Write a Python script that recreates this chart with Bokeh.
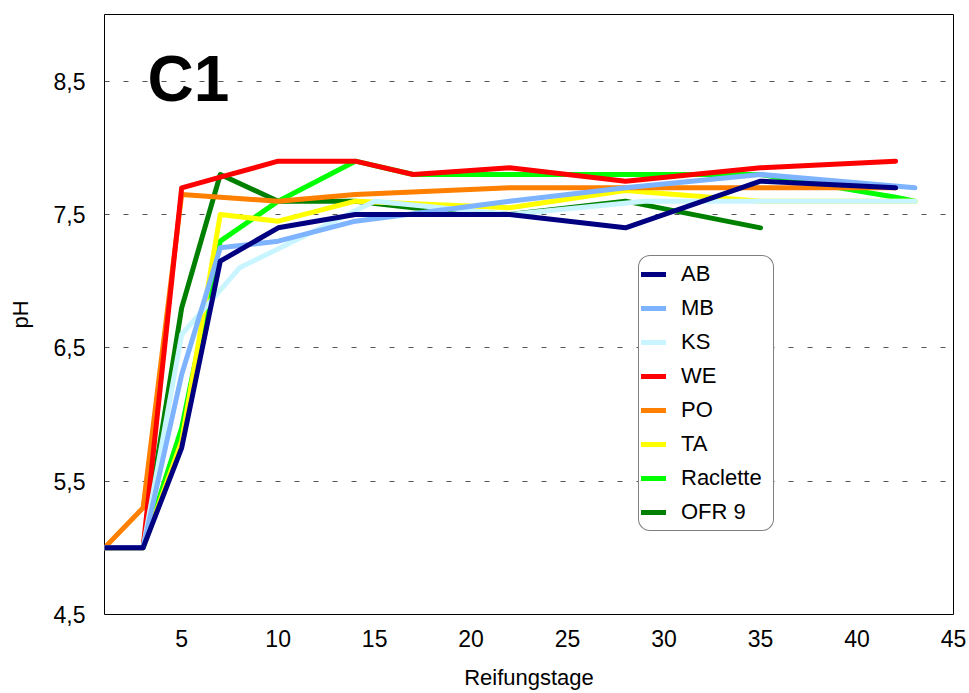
from bokeh.plotting import figure
from bokeh.models import Range1d, FixedTicker, Legend, LegendItem, Label
from bokeh.embed import file_html
from bokeh.resources import INLINE

# ---- data ----
series_names = ["AB", "MB", "KS", "WE", "PO", "TA", "Raclette", "OFR 9"]
series_colors = ["#000080", "#7DB3FF", "#C8F5FF", "#FF0000", "#FF8000", "#FFFF00", "#00FF00", "#008000"]

ab_days = [1, 3, 5, 7, 10, 14, 22, 28, 35, 42]
ab_ph = [5.0, 5.0, 5.75, 7.15, 7.4, 7.5, 7.5, 7.4, 7.75, 7.7]

mb_days = [1, 3, 5, 7, 10, 14, 22, 28, 35, 43]
mb_ph = [5.0, 5.0, 6.3, 7.25, 7.3, 7.45, 7.6, 7.7, 7.8, 7.7]

ks_days = [1, 3, 5, 8, 15, 22, 29, 35, 43]
ks_ph = [5.0, 5.0, 6.6, 7.1, 7.6, 7.5, 7.6, 7.6, 7.6]

we_days = [1, 3, 5, 7, 10, 14, 17, 22, 28, 35, 42]
we_ph = [5.0, 5.0, 7.7, 7.78, 7.9, 7.9, 7.8, 7.85, 7.75, 7.85, 7.9]

po_days = [1, 3, 5, 10, 14, 22, 28, 35, 42]
po_ph = [5.0, 5.3, 7.65, 7.6, 7.65, 7.7, 7.7, 7.7, 7.7]

ta_days = [1, 3, 5, 7, 10, 14, 22, 28, 35, 43]
ta_ph = [5.0, 5.0, 5.8, 7.5, 7.45, 7.6, 7.55, 7.68, 7.6, 7.6]

rac_days = [1, 3, 5, 7, 10, 14, 17, 22, 28, 35, 42, 43]
rac_ph = [5.0, 5.0, 5.9, 7.3, 7.6, 7.9, 7.8, 7.8, 7.8, 7.8, 7.63, 7.6]

ofr_days = [1, 3, 5, 7, 10, 14, 17, 22, 28, 35]
ofr_ph = [5.0, 5.0, 6.8, 7.8, 7.6, 7.6, 7.55, 7.5, 7.6, 7.4]

x_ticks = [5, 10, 15, 20, 25, 30, 35, 40, 45]
y_ticks = [4.5, 5.5, 6.5, 7.5, 8.5]
y_tick_labels = ["4,5", "5,5", "6,5", "7,5", "8,5"]

series_x = [ab_days, mb_days, ks_days, we_days, po_days, ta_days, rac_days, ofr_days]
series_y = [ab_ph, mb_ph, ks_ph, we_ph, po_ph, ta_ph, rac_ph, ofr_ph]

FONT = "Liberation Sans"

p = figure(width=969, height=693, output_backend="svg", toolbar_location=None,
           x_range=Range1d(1, 45), y_range=Range1d(4.5, 9.0),
           min_border_left=104, min_border_right=16, min_border_top=14, min_border_bottom=79)

p.background_fill_color = "white"
p.border_fill_color = "white"
p.outline_line_color = "black"
p.outline_line_width = 1

p.xgrid.grid_line_color = None
p.ygrid.ticker = FixedTicker(ticks=y_ticks)
p.ygrid.grid_line_color = "#555555"
p.ygrid.grid_line_dash = "5 14"
p.ygrid.grid_line_width = 1

p.xaxis.ticker = FixedTicker(ticks=x_ticks)
p.yaxis.ticker = FixedTicker(ticks=y_ticks)
p.yaxis.major_label_overrides = {t: l for t, l in zip(y_ticks, y_tick_labels)}

for ax in (p.xaxis, p.yaxis):
    ax.axis_line_color = None
    ax.major_tick_in = 0
    ax.major_tick_out = 0
    ax.minor_tick_in = 0
    ax.minor_tick_out = 0
    ax.major_label_text_font = FONT
    ax.major_label_text_font_size = "23px"
    ax.major_label_text_color = "black"
    ax.axis_label_text_font = FONT
    ax.axis_label_text_font_size = "22px"
    ax.axis_label_text_font_style = "normal"
    ax.axis_label_text_color = "black"

p.xaxis.axis_label = "Reifungstage"
p.yaxis.axis_label = "pH"
p.xaxis.major_label_standoff = 15
p.xaxis.axis_label_standoff = 15
p.yaxis.major_label_standoff = 19
p.yaxis.axis_label_standoff = 18

renderers = {}
for i in reversed(range(len(series_names))):
    r = p.line(series_x[i], series_y[i], line_color=series_colors[i], line_width=5,
               line_cap="round", line_join="round")
    renderers[i] = r

items = [LegendItem(label=series_names[i], renderers=[renderers[i]]) for i in range(len(series_names))]
legend = Legend(items=items, location=(534, 83))
legend.label_text_font = FONT
legend.label_text_font_size = "22px"
legend.label_text_color = "black"
legend.glyph_width = 25
legend.glyph_height = 32
legend.label_height = 32
legend.label_width = 90
legend.label_standoff = 15
legend.spacing = 2
legend.padding = 2
legend.margin = 0
legend.border_line_color = "black"
legend.border_line_width = 1
legend.background_fill_color = "white"
legend.background_fill_alpha = 1.0
if "border_radius" in Legend.properties():
    legend.border_radius = 12
p.add_layout(legend, "center")

title = Label(x=3.23, y=8.52, text="C1", text_font=FONT, text_font_size="64px",
              text_font_style="bold", text_color="black", text_baseline="alphabetic")
p.add_layout(title)

open("out.html", "w").write(file_html(p, INLINE))
